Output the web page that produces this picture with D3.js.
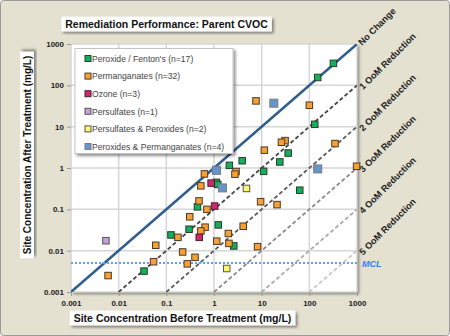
<!DOCTYPE html>
<html>
<head>
<meta charset="utf-8">
<script src="https://cdn.jsdelivr.net/npm/d3@7"></script>
<style>
  html, body { margin: 0; padding: 0; background: #fff; }
  svg { display: block; font-family: "Liberation Sans", Arial, sans-serif; }
</style>
</head>
<body>
<div id="chart"></div>
<script>
// before / after concentrations (mg/L) per treatment
var peroxideX = [150, 320, 130, 36, 3.9, 24, 11, 63, 2.6, 0.45, 1.23, 0.3, 0.125, 0.034, 1.12, 1.2, 2.1];
var peroxideY = [155, 340, 11.4, 2.3, 1.5, 1.4, 0.83, 0.29, 0.013, 0.115, 0.042, 0.033, 0.024, 0.0032, 0.45, 0.40, 1.16];
var permanganateX = [7.6, 100, 345, 31, 26, 11.4, 2.9, 2.75, 980, 9.5, 21, 4.1, 8.2, 0.71, 0.31, 0.65, 0.53, 0.175, 2.0, 1.14, 2.06, 0.06, 0.22, 0.40, 0.275, 0.054, 0.006, 0.485, 0.53, 0.63];
var permanganateY = [42, 33, 3.9, 4.6, 4.2, 2.7, 0.82, 0.71, 1.1, 0.153, 0.13, 0.039, 0.0125, 0.1, 0.066, 0.037, 0.030, 0.021, 0.026, 0.017, 0.015, 0.0135, 0.0093, 0.0069, 0.0048, 0.0054, 0.0025, 0.16, 0.37, 0.72];
var ozoneX = [0.87, 1.03, 0.49];
var ozoneY = [0.43, 0.12, 0.021];
var persulfateX = [0.0054];
var persulfateY = [0.0174];
var persulfPeroxX = [4.8, 1.85];
var persulfPeroxY = [0.32, 0.0037];
var peroxPermX = [18, 150, 1.13, 1.5];
var peroxPermY = [37, 0.95, 0.88, 0.33];

var seriesNames = ["Peroxide / Fenton's (n=17)", "Permanganates (n=32)", "Ozone (n=3)",
  "Persulfates (n=1)", "Persulfates & Peroxides (n=2)", "Peroxides & Permanganates (n=4)"];
var tickValues = [0.001, 0.01, 0.1, 1, 10, 100, 1000];
var tickLabels = ["0.001", "0.01", "0.1", "1", "10", "100", "1000"];
var reductions = [0, 1, 2, 3, 4, 5];
var reductionLabels = ["No Change", "1 OoM Reduction", "2 OoM Reduction", "3 OoM Reduction", "4 OoM Reduction", "5 OoM Reduction"];
var mcl = 0.005;

var series = [
  { name: seriesNames[0], xs: peroxideX, ys: peroxideY, fill: "#12b05a", stroke: "#2b3a2b", size: 6.5 },
  { name: seriesNames[1], xs: permanganateX, ys: permanganateY, fill: "#f7a135", stroke: "#4a3a28", size: 6.5 },
  { name: seriesNames[2], xs: ozoneX, ys: ozoneY, fill: "#d5256f", stroke: "#4a2030", size: 6.5 },
  { name: seriesNames[3], xs: persulfateX, ys: persulfateY, fill: "#c79ed8", stroke: "#555", size: 6.5 },
  { name: seriesNames[4], xs: persulfPeroxX, ys: persulfPeroxY, fill: "#fbfa6a", stroke: "#555", size: 6.5 },
  { name: seriesNames[5], xs: peroxPermX, ys: peroxPermY, fill: "#6496cd", stroke: "#7a7a7a", size: 8 }
];

var width = 450, height = 336;
var svg = d3.select("#chart").append("svg").attr("width", width).attr("height", height);

var defs = svg.append("defs");
var f = defs.append("filter").attr("id", "shadow").attr("x", "-10%").attr("y", "-10%").attr("width", "130%").attr("height", "130%");
f.append("feGaussianBlur").attr("in", "SourceAlpha").attr("stdDeviation", 1.5);
f.append("feOffset").attr("dx", 2).attr("dy", 2).attr("result", "b");
f.append("feComponentTransfer").append("feFuncA").attr("type", "linear").attr("slope", 0.45);
var fm = f.append("feMerge");
fm.append("feMergeNode");
fm.append("feMergeNode").attr("in", "SourceGraphic");

// background
svg.append("rect").attr("x", 0.5).attr("y", 0.5).attr("width", width - 1).attr("height", height - 1)
  .attr("rx", 3).attr("fill", "#e4e1d1").attr("stroke", "#9a9a9a");

var x = d3.scaleLog().domain([0.001, 1000]).range([71, 357]);
var y = d3.scaleLog().domain([0.001, 1000]).range([292, 44]);

// plot area
svg.append("rect").attr("x", 71).attr("y", 44).attr("width", 286).attr("height", 248)
  .attr("fill", "#fff").attr("filter", "url(#shadow)");

defs.append("clipPath").attr("id", "plotclip").append("rect")
  .attr("x", 71).attr("y", 44).attr("width", 286).attr("height", 248);

// grid
var grid = svg.append("g");
grid.selectAll(".gx").data(tickValues).enter().append("line")
  .attr("x1", function (d) { return x(d); }).attr("x2", function (d) { return x(d); })
  .attr("y1", 44).attr("y2", 292).attr("stroke", "#d6d6d6").attr("stroke-width", 1.5);
grid.selectAll(".gy").data(tickValues).enter().append("line")
  .attr("y1", function (d) { return y(d); }).attr("y2", function (d) { return y(d); })
  .attr("x1", 71).attr("x2", 357).attr("stroke", "#d6d6d6").attr("stroke-width", 1.5);

// axes
var xAxis = d3.axisBottom(x).tickValues(tickValues).tickSize(4).tickPadding(4)
  .tickFormat(function (d, i) { return tickLabels[i]; });
var yAxis = d3.axisLeft(y).tickValues(tickValues).tickSize(4).tickPadding(3)
  .tickFormat(function (d, i) { return tickLabels[i]; });
var gx = svg.append("g").attr("transform", "translate(0,292)").call(xAxis);
var gy = svg.append("g").attr("transform", "translate(71,0)").call(yAxis);
[gx, gy].forEach(function (g) {
  g.select(".domain").remove();
  g.selectAll(".tick line").attr("stroke", "#999");
  g.selectAll("text").attr("font-size", 8).attr("font-weight", "bold").attr("fill", "#222");
});

// reduction reference lines
var lineColors = ["#2f5d8c", "#444", "#5a5a5a", "#8a8a8a", "#aaaaaa", "#c8c8c8"];
var refs = svg.append("g").attr("clip-path", "url(#plotclip)");
reductions.forEach(function (k, i) {
  var pts = [[0.001 * Math.pow(10, k), 0.001], [1000, 1000 / Math.pow(10, k)]];
  refs.append("path")
    .attr("d", d3.line().x(function (d) { return x(d[0]); }).y(function (d) { return y(d[1]); })(pts))
    .attr("fill", "none")
    .attr("stroke", lineColors[i])
    .attr("stroke-width", k === 0 ? 2.5 : 1.8)
    .attr("stroke-dasharray", k === 0 ? null : "4,2.5");
});

// MCL line
svg.append("line").attr("x1", 71).attr("x2", 357).attr("y1", y(mcl)).attr("y2", y(mcl))
  .attr("stroke", "#5aa2ff").attr("stroke-width", 2).attr("stroke-dasharray", "2,2");
svg.append("text").attr("x", 362).attr("y", y(mcl) + 3.5).text("MCL")
  .attr("font-size", 9).attr("font-weight", "bold").attr("font-style", "italic").attr("fill", "#3a7df2");

// line labels
reductions.forEach(function (k, i) {
  var ly = y(1000 / Math.pow(10, k));
  svg.append("text")
    .attr("transform", "translate(" + (362 + (k > 0 ? 1 : 0)) + "," + (ly + (k > 0 ? 5 : 2)) + ") rotate(-45)")
    .attr("font-size", 9.2).attr("font-weight", "bold").attr("fill", "#222")
    .text(reductionLabels[i]);
});

// points
var pts = svg.append("g");
series.forEach(function (s) {
  var data = s.xs.map(function (v, i) { return [v, s.ys[i]]; });
  pts.selectAll(null).data(data).enter().append("rect")
    .attr("x", function (d) { return x(d[0]) - s.size / 2; })
    .attr("y", function (d) { return y(d[1]) - s.size / 2; })
    .attr("width", s.size).attr("height", s.size)
    .attr("fill", s.fill).attr("stroke", s.stroke).attr("stroke-width", 1);
});

// legend
var lg = svg.append("g");
lg.append("rect").attr("x", 75).attr("y", 48.5).attr("width", 158).attr("height", 105)
  .attr("fill", "#fff").attr("stroke", "#c4c4c4").attr("filter", "url(#shadow)");
series.forEach(function (s, i) {
  var cy = 58.5 + i * 17.6;
  lg.append("rect").attr("x", 85).attr("y", cy - 3).attr("width", 6).attr("height", 6)
    .attr("fill", s.fill).attr("stroke", s.stroke).attr("stroke-width", 1);
  lg.append("text").attr("x", 92).attr("y", cy + 3.2).text(s.name)
    .attr("font-size", 8.6).attr("fill", "#444");
});

// titles
function boxedText(cx, cy, txt, size, rotate) {
  var g = svg.append("g").attr("transform", "translate(" + cx + "," + cy + ")" + (rotate ? " rotate(-90)" : ""));
  var t = g.append("text").attr("text-anchor", "middle").attr("y", size * 0.36)
    .attr("font-size", size).attr("font-weight", "bold").attr("fill", "#111").text(txt);
  var w = t.node().getComputedTextLength();
  g.insert("rect", "text").attr("x", -w / 2 - 4).attr("y", -size * 0.7).attr("width", w + 8).attr("height", size * 1.4)
    .attr("fill", "#fff").attr("filter", "url(#shadow)");
}
boxedText(166.5, 24, "Remediation Performance: Parent CVOC", 10.5, false);
boxedText(182.5, 318, "Site Concentration Before Treatment (mg/L)", 10.5, false);
boxedText(27, 155, "Site Concentration After Treatment (mg/L)", 10, true);
</script>
</body>
</html>
